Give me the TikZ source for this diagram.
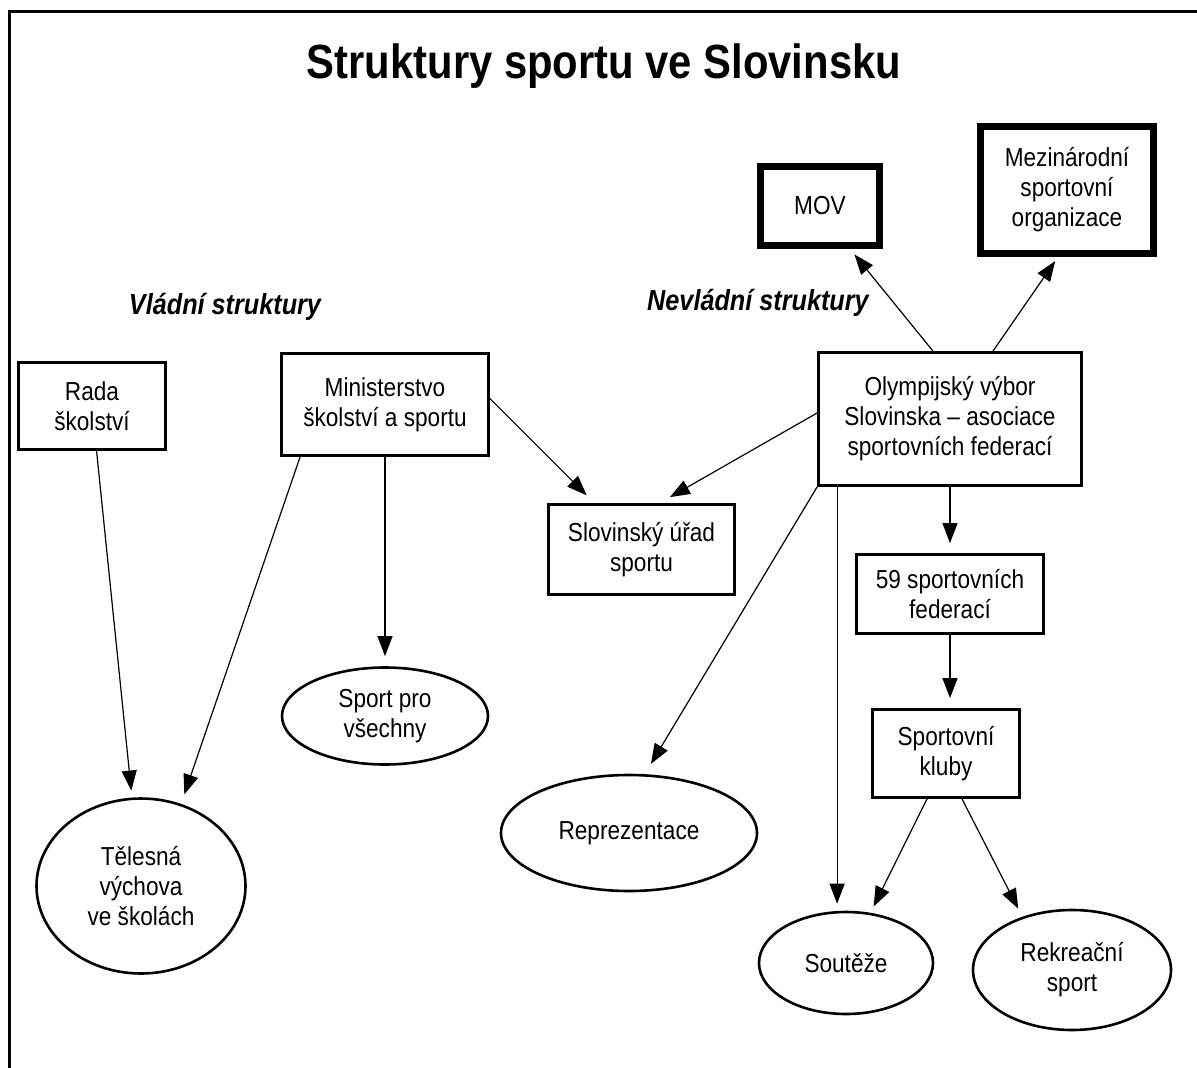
\documentclass[tikz,border=0pt]{standalone}
\usepackage{fontspec}
\setmainfont{Liberation Sans}[FakeStretch=0.87]
\usepackage{tikz}
\usetikzlibrary{arrows.meta, shapes.geometric, calc}

\tikzset{
  box/.style={draw, line width=2.8pt, rectangle, align=center, inner sep=0pt,
    font=\fontsize{26}{30}\selectfont},
  heavybox/.style={box, line width=7pt},
  oval/.style={draw, line width=2.6pt, ellipse, align=center, inner sep=0pt,
    font=\fontsize{26}{30}\selectfont},
  arr/.style={-{Triangle[length=20pt, width=15pt]}, line width=1.2pt},
  head/.style={font=\fontsize{29}{34}\selectfont\bfseries\itshape}
}

\begin{document}
\begin{tikzpicture}[x=1pt, y=-1pt]
        \useasboundingbox (0,0) rectangle (1197,1068);
        % frame
        \draw[line width=3pt] (9.8,1068) -- (9.8,11.7) -- (1197,11.7);

        % title
        \node (title) at (604,66) {\fontsize{48}{56}\selectfont\bfseries Struktury sportu ve Slovinsku};
        \node[head] (vladni) at (225,307) {Vládní struktury};
        \node[head] (nevladni) at (758,303) {Nevládní struktury};

        % government side
        \node[box, minimum width=147pt, minimum height=87pt] (rada) at (92,406) {Rada\\školství};
        \node[box, minimum width=207pt, minimum height=102pt] (ministerstvo) at (385,404.5) {Ministerstvo\\školství a sportu};
        \node[box, minimum width=186pt, minimum height=90pt] (urad) at (641.5,549.5) {Slovinský úřad\\sportu};
        \node[oval, minimum width=209pt, minimum height=175pt] (telesna) at (141,886) {Tělesná\\výchova\\ve školách};
        \node[oval, minimum width=206pt, minimum height=97pt] (vsechny) at (385,716) {Sport pro\\všechny};

        % non-government side
        \node[box, minimum width=263pt, minimum height=133pt] (vybor) at (950,419) {Olympijský výbor\\Slovinska -- asociace\\sportovních federací};
        \node[heavybox, minimum width=119pt, minimum height=79pt] (mov) at (820,206) {MOV};
        \node[heavybox, minimum width=173pt, minimum height=127pt] (mso) at (1067,190) {Mezinárodní\\sportovní\\organizace};
        \node[box, minimum width=187pt, minimum height=79pt] (federace) at (950,594) {59 sportovních\\federací};
        \node[box, minimum width=147pt, minimum height=88pt] (kluby) at (946,753.5) {Sportovní\\kluby};
        \node[oval, minimum width=256pt, minimum height=116pt] (reprezentace) at (629,833) {Reprezentace};
        \node[oval, minimum width=174pt, minimum height=102pt] (souteze) at (846,963) {Soutěže};
        \node[oval, minimum width=198pt, minimum height=120pt] (rekreace) at (1072,970) {Rekreační\\sport};

        % arrows
        \draw[arr, shorten >=7pt] (rada) -- (telesna);
        \draw[arr, shorten >=10pt] ([xshift=20pt]ministerstvo.south west) -- (telesna.64);
        \draw[arr, shorten >=10pt] (ministerstvo.south) -- (vsechny.north);
        \draw[arr, shorten >=11pt] ([yshift=6pt]ministerstvo.east) -- ([xshift=-47pt]urad.north);
        \draw[arr, shorten >=12pt] ([yshift=6pt]vybor.west) -- ([xshift=18pt]urad.north);
        \draw[arr, shorten >=7pt] ([xshift=-17pt]vybor.north) -- ([xshift=30pt]mov.south);
        \draw[arr, shorten >=5pt] ([xshift=43pt]vybor.north) -- ([xshift=-9pt]mso.south);
        \draw[arr, shorten >=10pt] (vybor.south) -- (federace.north);
        \draw[arr, shorten >=12pt] (vybor.south west) -- (reprezentace.75);
        \draw[arr, shorten >=7pt] ([xshift=20pt]vybor.south west) -- ([xshift=20pt]vybor.south west |- souteze.north);
        \draw[arr, shorten >=10pt] (federace.south) -- (federace.south |- kluby.north);
        \draw[arr, shorten >=7pt] ([xshift=-19pt]kluby.south) -- (souteze.64);
        \draw[arr, shorten >=9pt] ([xshift=16pt]kluby.south) -- (rekreace.133);
\end{tikzpicture}
\end{document}
